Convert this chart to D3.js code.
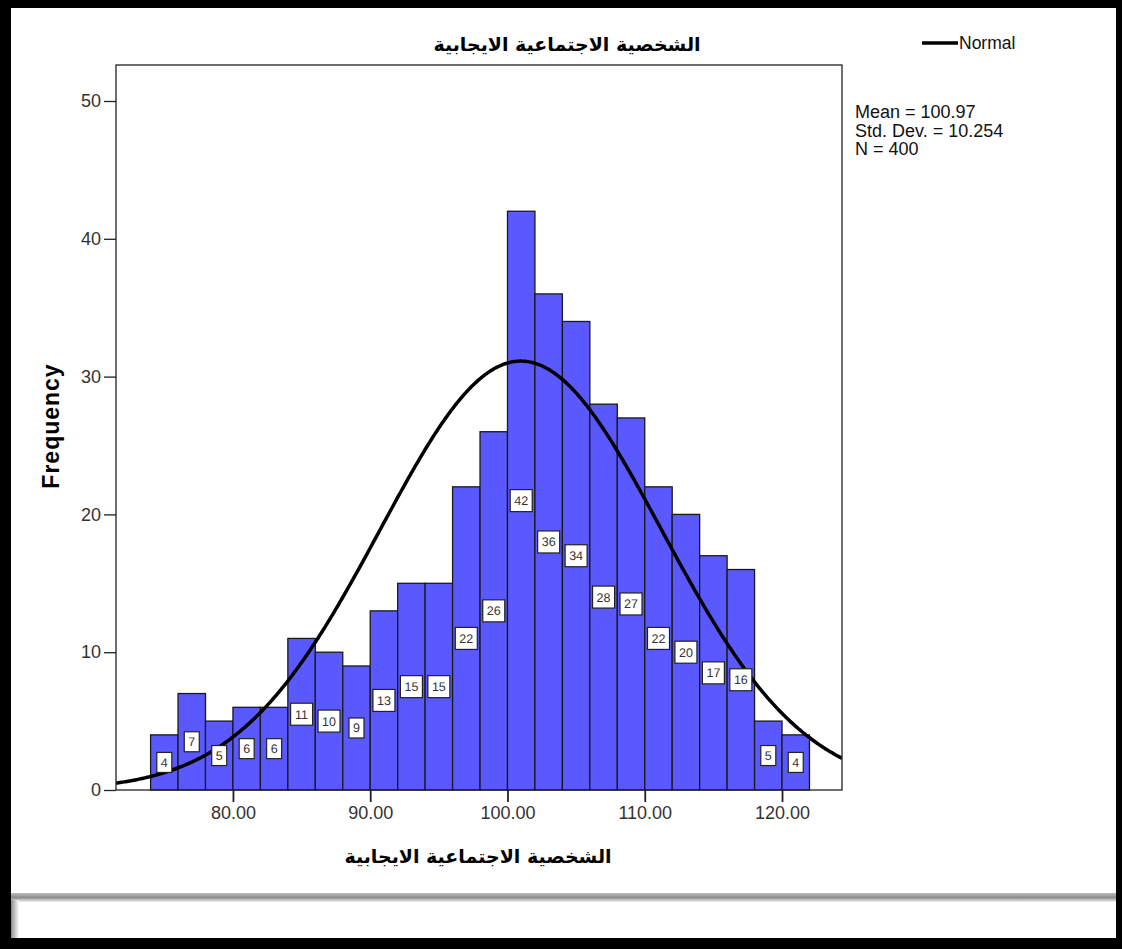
<!DOCTYPE html>
<html><head><meta charset="utf-8">
<script src="https://cdn.jsdelivr.net/npm/d3@7"></script>
<style>
html,body{margin:0;padding:0;background:#fff;}
svg{display:block;}
text{font-family:"Liberation Sans",Arial,sans-serif;}
</style></head>
<body>
<svg id="c" width="1122" height="949"></svg>
<script>
// ---- data ----
const binStarts = [74,76,78,80,82,84,86,88,90,92,94,96,98,100,102,104,106,108,110,112,114,116,118,120];
const counts    = [4,7,5,6,6,11,10,9,13,15,15,22,26,42,36,34,28,27,22,20,17,16,5,4];
const binWidth = 2;
const yTicks = [0,10,20,30,40,50];
const xTicks = [80,90,100,110,120];
const statLines = ["Mean = 100.97","Std. Dev. = 10.254","N = 400"];
const mean = 100.97, sd = 10.254, N = 400;
const titleText = "الشخصية الاجتماعية الايجابية";

const svg = d3.select("#c");
const W = 1122, H = 949;

// outer frame / page decor
svg.append("rect").attr("x",0).attr("y",0).attr("width",W).attr("height",H).attr("fill","#000");
svg.append("rect").attr("x",11).attr("y",8).attr("width",1105).attr("height",930).attr("fill","#fff");
const defs = svg.append("defs");
const g1 = defs.append("linearGradient").attr("id","sep").attr("x1",0).attr("y1",0).attr("x2",0).attr("y2",1);
g1.append("stop").attr("offset","0").attr("stop-color","#bdbdbd");
g1.append("stop").attr("offset","0.5").attr("stop-color","#8c8c8c");
g1.append("stop").attr("offset","1").attr("stop-color","#f2f2f2");
svg.append("rect").attr("x",11).attr("y",893).attr("width",1105).attr("height",9).attr("fill","url(#sep)");
const g2 = defs.append("linearGradient").attr("id","lsh").attr("x1",0).attr("y1",0).attr("x2",1).attr("y2",0);
g2.append("stop").attr("offset","0").attr("stop-color","#8c8c8c");
g2.append("stop").attr("offset","1").attr("stop-color","#fff");
svg.append("rect").attr("x",11).attr("y",900).attr("width",8).attr("height",38).attr("fill","url(#lsh)");

// plot area
const L = 116, T = 65, R = 842, B = 790;
const x = d3.scaleLinear().domain([71.48,124.37]).range([L,R]);
const y = d3.scaleLinear().domain([0, 50*(B-T)/(B-101)]).range([B,T]);

svg.append("clipPath").attr("id","clip").append("rect").attr("x",L).attr("y",T).attr("width",R-L).attr("height",B-T);

// bars
const bars = binStarts.map((s,i)=>({s, c:counts[i]}));
svg.append("g").selectAll("rect").data(bars).join("rect")
  .attr("x",d=>x(d.s)).attr("width",d=>x(d.s+binWidth)-x(d.s))
  .attr("y",d=>y(d.c)).attr("height",d=>B-y(d.c))
  .attr("fill","#5959ff").attr("stroke","#1a1a1a").attr("stroke-width",1.3);

// normal curve
const pdf = v => N*binWidth/(sd*Math.sqrt(2*Math.PI))*Math.exp(-0.5*((v-mean)/sd)**2);
const xs = d3.range(71.48,124.4,0.1);
svg.append("path").attr("clip-path","url(#clip)")
  .attr("d", d3.line().x(v=>x(v)).y(v=>y(pdf(v)))(xs))
  .attr("fill","none").attr("stroke","#000").attr("stroke-width",3.5);

// value labels
const lab = svg.append("g").selectAll("g").data(bars).join("g")
  .attr("transform",d=>`translate(${x(d.s+binWidth/2)},${y(d.c/2)})`);
lab.append("rect")
  .attr("x",d=>d.c>=10?-11:-7.5).attr("y",d=>d.c>=10?-11:-10)
  .attr("width",d=>d.c>=10?22:15).attr("height",d=>d.c>=10?22:20)
  .attr("fill","#fff").attr("stroke","#222").attr("stroke-width",1.2);
lab.append("text").attr("text-anchor","middle").attr("dy","0.36em").attr("font-size",12.5)
  .attr("fill","#333").style("text-rendering","geometricPrecision").text(d=>d.c);

// frame
svg.append("rect").attr("x",L).attr("y",T).attr("width",R-L).attr("height",B-T)
  .attr("fill","none").attr("stroke","#222").attr("stroke-width",1.3);

// axes
const yAxis = svg.append("g").attr("transform",`translate(${L},0)`)
  .call(d3.axisLeft(y).tickValues(yTicks).tickSize(12).tickPadding(3).tickFormat(d3.format("d")));
yAxis.select(".domain").remove();
yAxis.selectAll("line").attr("stroke","#222").attr("stroke-width",1.3);
yAxis.selectAll("text").attr("font-size",18).attr("fill","#333").attr("font-family","Liberation Sans, Arial, sans-serif");

const xAxis = svg.append("g").attr("transform",`translate(0,${B})`)
  .call(d3.axisBottom(x).tickValues(xTicks).tickSize(12).tickPadding(4).tickFormat(d3.format(".2f")));
xAxis.select(".domain").remove();
xAxis.selectAll("line").attr("stroke","#222").attr("stroke-width",1.8);
xAxis.selectAll("text").attr("font-size",18).attr("fill","#333").attr("font-family","Liberation Sans, Arial, sans-serif");

// titles
svg.append("text").attr("x",567).attr("y",51).attr("text-anchor","middle")
  .attr("font-size",19).attr("font-weight","bold").attr("direction","rtl")
  .style("font-family","'DejaVu Sans',sans-serif").text(titleText);
svg.append("text").attr("x",478).attr("y",863).attr("text-anchor","middle")
  .attr("font-size",19).attr("font-weight","bold").attr("direction","rtl")
  .style("font-family","'DejaVu Sans',sans-serif").text(titleText);
svg.append("text").attr("transform","translate(59,426) rotate(-90)").attr("text-anchor","middle")
  .attr("font-size",23).attr("font-weight","bold").attr("letter-spacing",1).attr("fill","#000").text("Frequency");

// legend
svg.append("line").attr("x1",922).attr("x2",958).attr("y1",43).attr("y2",43).attr("stroke","#000").attr("stroke-width",3.5);
svg.append("text").attr("x",959).attr("y",49).attr("font-size",17.5).attr("fill","#111").text("Normal");

// stats
svg.append("g").selectAll("text").data(statLines).join("text")
  .attr("x",855).attr("y",(d,i)=>118+i*18.5).attr("font-size",18).attr("fill","#111").text(d=>d);
</script>
</body></html>
